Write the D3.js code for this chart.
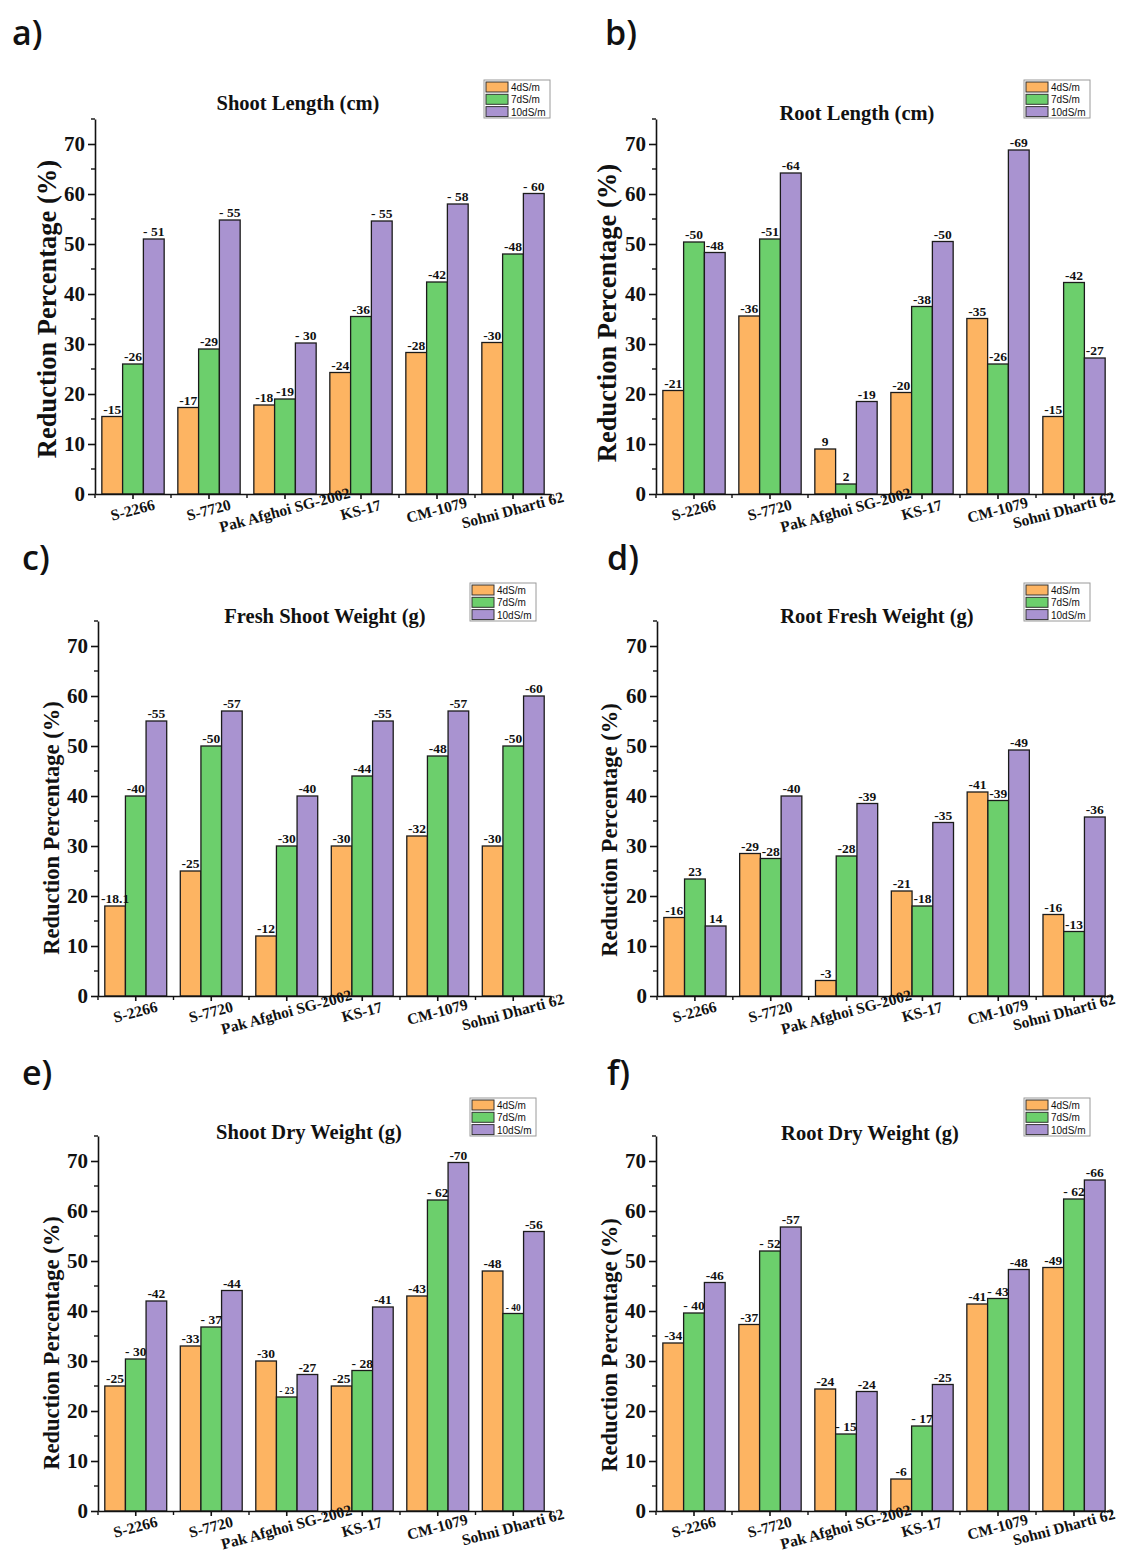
<!DOCTYPE html>
<html>
<head>
<meta charset="utf-8">
<script src="https://cdn.jsdelivr.net/npm/d3@7"></script>
<style>
  body { margin: 0; background: #fff; }
  svg text { fill: #111; }
  .serif { font-family: "Liberation Serif", "Times New Roman", serif; font-weight: bold; }
</style>
</head>
<body>
<svg id="chart"></svg>
<script>
// data
var categories = ["S-2266", "S-7720", "Pak Afghoi SG-2002", "KS-17", "CM-1079", "Sohni Dharti 62"];
var seriesNames = ["4dS/m", "7dS/m", "10dS/m"];
var colors = ["#FDB462", "#6CCF6C", "#A993D0"];

var shootLength4 = [15.5, 17.3, 17.8, 24.3, 28.3, 30.3];
var shootLength7 = [26, 29, 19, 35.5, 42.4, 48];
var shootLength10 = [51, 54.8, 30.2, 54.6, 58, 60.1];
var shootLengthLabels = [
  ["-15", "-17", "-18", "-24", "-28", "-30"],
  ["-26", "-29", "-19", "-36", "-42", "-48"],
  ["- 51", "- 55", "- 30", "- 55", "- 58", "- 60"]
];

var rootLength4 = [20.7, 35.6, 9, 20.3, 35.1, 15.5];
var rootLength7 = [50.4, 51, 2, 37.5, 26, 42.3];
var rootLength10 = [48.3, 64.2, 18.5, 50.5, 68.8, 27.2];
var rootLengthLabels = [
  ["-21", "-36", "9", "-20", "-35", "-15"],
  ["-50", "-51", "2", "-38", "-26", "-42"],
  ["-48", "-64", "-19", "-50", "-69", "-27"]
];

var freshShoot4 = [18, 25, 12, 30, 32, 30];
var freshShoot7 = [40, 50, 30, 44, 48, 50];
var freshShoot10 = [55, 57, 40, 55, 57, 60];
var freshShootLabels = [
  ["-18.1", "-25", "-12", "-30", "-32", "-30"],
  ["-40", "-50", "-30", "-44", "-48", "-50"],
  ["-55", "-57", "-40", "-55", "-57", "-60"]
];

var rootFresh4 = [15.7, 28.5, 3.1, 21, 40.8, 16.3];
var rootFresh7 = [23.4, 27.5, 28, 18, 39.1, 12.9];
var rootFresh10 = [14, 40, 38.5, 34.7, 49.2, 35.8];
var rootFreshLabels = [
  ["-16", "-29", "-3", "-21", "-41", "-16"],
  ["23", "-28", "-28", "-18", "-39", "-13"],
  ["14", "-40", "-39", "-35", "-49", "-36"]
];

var shootDry4 = [25, 33, 30, 25, 43, 48];
var shootDry7 = [30.4, 36.8, 22.8, 28.1, 62.2, 39.5];
var shootDry10 = [42, 44.1, 27.3, 40.8, 69.7, 55.9];
var shootDryLabels = [
  ["-25", "-33", "-30", "-25", "-43", "-48"],
  ["- 30", "- 37", "- 23", "- 28", "- 62", "- 40"],
  ["-42", "-44", "-27", "-41", "-70", "-56"]
];

var rootDry4 = [33.6, 37.3, 24.4, 6.4, 41.4, 48.7];
var rootDry7 = [39.6, 52, 15.4, 17, 42.5, 62.4];
var rootDry10 = [45.7, 56.8, 23.9, 25.3, 48.3, 66.2];
var rootDryLabels = [
  ["-34", "-37", "-24", "-6", "-41", "-49"],
  ["- 40", "- 52", "- 15", "- 17", "- 43", "- 62"],
  ["-46", "-57", "-24", "-25", "-48", "-66"]
];

var yTicks = [0, 10, 20, 30, 40, 50, 60, 70];
var yMinorTicks = [5, 15, 25, 35, 45, 55, 65, 75];

// panels: layout
var panels = [
  { tag: "a)", tagX: 12, tagY: 45, title: "Shoot Length (cm)", titleX: 298, titleY: 110,
    yLabel: "Reduction Percentage (%)", labelX: 56, labelMid: 309, labelSize: 26.5,
    left: 95, right: 551, zero: 494,
    legX: 484, legY: 80, values: [shootLength4, shootLength7, shootLength10], labels: shootLengthLabels },
  { tag: "b)", tagX: 605, tagY: 45, title: "Root Length (cm)", titleX: 857, titleY: 120,
    yLabel: "Reduction Percentage (%)", labelX: 616, labelMid: 313, labelSize: 26.5,
    left: 656, right: 1112, zero: 494,
    legX: 1024, legY: 80, values: [rootLength4, rootLength7, rootLength10], labels: rootLengthLabels },
  { tag: "c)", tagX: 22, tagY: 570, title: "Fresh Shoot Weight (g)", titleX: 325, titleY: 623,
    yLabel: "Reduction Percentage  (%)", labelX: 59, labelMid: 828, labelSize: 22.5,
    left: 98, right: 551, zero: 996,
    legX: 470, legY: 583, values: [freshShoot4, freshShoot7, freshShoot10], labels: freshShootLabels },
  { tag: "d)", tagX: 607, tagY: 570, title: "Root Fresh Weight (g)", titleX: 877, titleY: 623,
    yLabel: "Reduction Percentage  (%)", labelX: 617, labelMid: 830, labelSize: 22.5,
    left: 657, right: 1112, zero: 996,
    legX: 1024, legY: 583, values: [rootFresh4, rootFresh7, rootFresh10], labels: rootFreshLabels },
  { tag: "e)", tagX: 22, tagY: 1085, title: "Shoot Dry Weight (g)", titleX: 309, titleY: 1139,
    yLabel: "Reduction Percentage  (%)", labelX: 59, labelMid: 1343, labelSize: 22.5,
    left: 98, right: 551, zero: 1511,
    legX: 470, legY: 1098, values: [shootDry4, shootDry7, shootDry10], labels: shootDryLabels, small: ["- 23", "- 40"] },
  { tag: "f)", tagX: 607, tagY: 1085, title: "Root Dry Weight (g)", titleX: 870, titleY: 1140,
    yLabel: "Reduction Percentage  (%)", labelX: 617, labelMid: 1345, labelSize: 22.5,
    left: 656, right: 1112, zero: 1511,
    legX: 1024, legY: 1098, values: [rootDry4, rootDry7, rootDry10], labels: rootDryLabels }
];

var svg = d3.select("#chart")
  .attr("width", 1121)
  .attr("height", 1552);

panels.forEach(function(p) {
  var g = svg.append("g");

  var x0 = d3.scaleBand()
    .domain(categories)
    .range([p.left, p.right])
    .paddingInner(0.18)
    .paddingOuter(0.09);

  var x1 = d3.scaleBand()
    .domain(seriesNames)
    .range([0, x0.bandwidth()]);

  var y = d3.scaleLinear()
    .domain([0, 75])
    .range([p.zero, p.zero - 375]);

  // panel tag
  g.append("text")
    .attr("x", p.tagX).attr("y", p.tagY)
    .style("font-family", "'Open Sans', 'Liberation Sans', sans-serif")
    .style("font-size", "34px")
    .style("font-weight", "600")
    .text(p.tag);

  // bars first, then value labels on top
  seriesNames.forEach(function(s, si) {
    g.selectAll(null)
      .data(p.values[si])
      .enter()
      .append("rect")
      .attr("x", function(d, i){ return x0(categories[i]) + x1(s); })
      .attr("y", function(d){ return y(d); })
      .attr("width", x1.bandwidth())
      .attr("height", function(d){ return y(0) - y(d); })
      .attr("fill", colors[si])
      .attr("stroke", "#1b1b1b")
      .attr("stroke-width", 1.3);
  });

  seriesNames.forEach(function(s, si) {
    g.selectAll(null)
      .data(p.values[si])
      .enter()
      .append("text")
      .attr("class", "serif")
      .attr("x", function(d, i){ return x0(categories[i]) + x1(s) + x1.bandwidth() / 2; })
      .attr("y", function(d){ return y(d) - 3; })
      .attr("text-anchor", "middle")
      .style("font-size", function(d, i){
        var t = p.labels[si][i];
        return (p.small && p.small.indexOf(t) >= 0) ? "9.5px" : "13.5px";
      })
      .text(function(d, i){ return p.labels[si][i]; });
  });

  // y axis
  var yAxis = d3.axisLeft(y)
    .tickValues(yTicks)
    .tickSize(7)
    .tickPadding(3)
    .tickSizeOuter(0);

  var ya = g.append("g")
    .attr("transform", "translate(" + p.left + ",0)")
    .call(yAxis);
  ya.select(".domain").attr("stroke", "#111").attr("stroke-width", 1.6);
  ya.selectAll(".tick line").attr("stroke", "#111").attr("stroke-width", 1.6);
  ya.selectAll(".tick text")
    .attr("class", "serif")
    .style("font-size", "21px");

  g.selectAll(null)
    .data(yMinorTicks)
    .enter()
    .append("line")
    .attr("x1", p.left).attr("x2", p.left - 4)
    .attr("y1", function(d){ return y(d); })
    .attr("y2", function(d){ return y(d); })
    .attr("stroke", "#111").attr("stroke-width", 1.4);

  // x axis
  var xAxis = d3.axisBottom(x0)
    .tickSize(5)
    .tickSizeOuter(0)
    .tickFormat("");

  var xa = g.append("g")
    .attr("transform", "translate(0," + p.zero + ")")
    .call(xAxis);
  xa.select(".domain").attr("stroke", "#111").attr("stroke-width", 1.6);
  xa.selectAll(".tick line").attr("stroke", "#111").attr("stroke-width", 1.6);

  // minor ticks between groups
  var bounds = categories.map(function(c){ return x0(c) - x0.step() * x0.paddingInner() / 2; });
  bounds.push(p.right);
  g.selectAll(null)
    .data(bounds)
    .enter()
    .append("line")
    .attr("x1", function(d){ return d; })
    .attr("x2", function(d){ return d; })
    .attr("y1", p.zero)
    .attr("y2", p.zero + 4)
    .attr("stroke", "#111").attr("stroke-width", 1.4);

  // category labels (kept inside the page on the right)
  g.selectAll(null)
    .data(categories)
    .enter()
    .append("text")
    .attr("class", "serif")
    .attr("text-anchor", "middle")
    .style("font-size", "15.5px")
    .text(function(d){ return d; })
    .attr("transform", function(d){
      var half = this.getComputedTextLength() * 0.966 / 2 + 2;
      var cx = Math.min(x0(d) + x0.bandwidth() / 2 + 1, 1118 - half);
      return "translate(" + cx + "," + (p.zero + 21) + ") rotate(-15)";
    });

  // y label
  g.append("text")
    .attr("class", "serif")
    .attr("text-anchor", "middle")
    .style("font-size", p.labelSize + "px")
    .attr("transform", "translate(" + p.labelX + "," + p.labelMid + ") rotate(-90)")
    .text(p.yLabel);

  // title
  g.append("text")
    .attr("class", "serif")
    .attr("x", p.titleX).attr("y", p.titleY)
    .attr("text-anchor", "middle")
    .style("font-size", "20.5px")
    .text(p.title);

  // legend
  var leg = g.append("g").attr("transform", "translate(" + p.legX + "," + p.legY + ")");
  leg.append("rect")
    .attr("x", 0).attr("y", 0)
    .attr("width", 66).attr("height", 38)
    .attr("fill", "#fff")
    .attr("stroke", "#9a9a9a").attr("stroke-width", 1);
  seriesNames.forEach(function(s, si) {
    leg.append("rect")
      .attr("x", 2).attr("y", 2 + si * 12.3)
      .attr("width", 22).attr("height", 10)
      .attr("fill", colors[si])
      .attr("stroke", "#333").attr("stroke-width", 1);
    leg.append("text")
      .attr("x", 27).attr("y", 11 + si * 12.3)
      .style("font-family", "'Liberation Sans', Arial, sans-serif")
      .style("font-size", "10px")
      .text(s);
  });
});
</script>
</body>
</html>
